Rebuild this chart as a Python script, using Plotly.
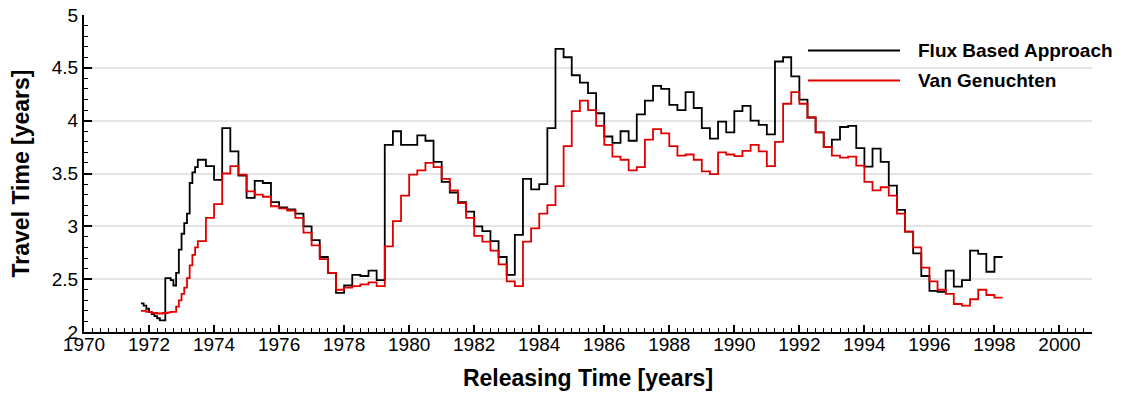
import plotly.graph_objects as go

# ---------------- data ----------------
# release times (decimal years): monthly at the start, quarterly afterwards
release_time = [
    1971.75, 1971.833, 1971.917,
    1972.0, 1972.083, 1972.167, 1972.25, 1972.333, 1972.417,
    1972.5, 1972.583, 1972.667, 1972.75, 1972.833, 1972.917,
    1973.0, 1973.083, 1973.167, 1973.25, 1973.333, 1973.417,
    1973.5, 1973.75,
    1974.0, 1974.25, 1974.5, 1974.75,
    1975.0, 1975.25, 1975.5, 1975.75,
    1976.0, 1976.25, 1976.5, 1976.75,
    1977.0, 1977.25, 1977.5, 1977.75,
    1978.0, 1978.25, 1978.5, 1978.75,
    1979.0, 1979.25, 1979.5, 1979.75,
    1980.0, 1980.25, 1980.5, 1980.75,
    1981.0, 1981.25, 1981.5, 1981.75,
    1982.0, 1982.25, 1982.5, 1982.75,
    1983.0, 1983.25, 1983.5, 1983.75,
    1984.0, 1984.25, 1984.5, 1984.75,
    1985.0, 1985.25, 1985.5, 1985.75,
    1986.0, 1986.25, 1986.5, 1986.75,
    1987.0, 1987.25, 1987.5, 1987.75,
    1988.0, 1988.25, 1988.5, 1988.75,
    1989.0, 1989.25, 1989.5, 1989.75,
    1990.0, 1990.25, 1990.5, 1990.75,
    1991.0, 1991.25, 1991.5, 1991.75,
    1992.0, 1992.25, 1992.5, 1992.75,
    1993.0, 1993.25, 1993.5, 1993.75,
    1994.0, 1994.25, 1994.5, 1994.75,
    1995.0, 1995.25, 1995.5, 1995.75,
    1996.0, 1996.25, 1996.5, 1996.75,
    1997.0, 1997.25, 1997.5, 1997.75,
    1998.0,
]
series_end = 1998.25

flux_based = [
    2.27, 2.25, 2.22,
    2.19, 2.17, 2.15, 2.13, 2.11, 2.11,
    2.51, 2.51, 2.49, 2.44, 2.56, 2.78,
    2.93, 3.03, 3.12, 3.41, 3.51, 3.56,
    3.63, 3.57,
    3.44, 3.93, 3.71, 3.48,
    3.27, 3.43, 3.41, 3.23,
    3.18, 3.16, 3.12, 3.00,
    2.87, 2.71, 2.56, 2.37,
    2.44, 2.54, 2.53, 2.58,
    2.49, 3.77, 3.90, 3.77,
    3.77, 3.86, 3.81, 3.61,
    3.42, 3.32, 3.23, 3.14,
    3.00, 2.955, 2.86, 2.71,
    2.54, 2.92, 3.45, 3.35,
    3.40, 3.93, 4.68, 4.60,
    4.43, 4.36, 4.26, 4.07,
    3.85, 3.79, 3.90, 3.81,
    4.06, 4.19, 4.33, 4.30,
    4.15, 4.10, 4.27, 4.12,
    3.93, 3.83, 3.99, 3.89,
    4.09, 4.14, 4.00, 3.96,
    3.87, 4.56, 4.60, 4.42,
    4.20, 4.03, 3.89, 3.75,
    3.82, 3.94, 3.95, 3.74,
    3.565, 3.735, 3.61, 3.385,
    3.155, 2.95, 2.745, 2.53,
    2.39, 2.38, 2.58, 2.43,
    2.49, 2.77, 2.74, 2.57,
    2.71,
]

van_genuchten = [
    2.20, 2.20, 2.19,
    2.19, 2.18, 2.18, 2.175, 2.175, 2.18,
    2.18, 2.185, 2.19, 2.19, 2.24, 2.30,
    2.36, 2.42, 2.51, 2.63, 2.73, 2.80,
    2.86, 3.08,
    3.21, 3.50, 3.57, 3.49,
    3.33, 3.30, 3.28, 3.19,
    3.17, 3.15, 3.08, 2.94,
    2.82, 2.69, 2.56, 2.40,
    2.42, 2.435, 2.45, 2.47,
    2.435, 2.81, 3.05, 3.29,
    3.49, 3.53, 3.60, 3.56,
    3.45, 3.34, 3.22, 3.08,
    2.91, 2.855, 2.77, 2.64,
    2.48, 2.435, 2.855, 2.98,
    3.12, 3.20, 3.38, 3.76,
    4.09, 4.19, 4.10, 3.95,
    3.77, 3.66, 3.63, 3.53,
    3.56, 3.82, 3.92, 3.88,
    3.76, 3.67, 3.68, 3.63,
    3.52, 3.495, 3.70, 3.68,
    3.665, 3.715, 3.77, 3.71,
    3.57, 3.80, 4.16, 4.27,
    4.16, 4.03, 3.89, 3.75,
    3.67, 3.65, 3.66, 3.575,
    3.42, 3.34, 3.37, 3.29,
    3.12, 2.95, 2.80, 2.61,
    2.48, 2.40, 2.36, 2.265,
    2.25, 2.31, 2.40, 2.35,
    2.325,
]

series_names = ["Flux Based Approach", "Van Genuchten"]
series_colors = ["#000000", "#e00000"]

x_title = "Releasing Time [years]"
y_title = "Travel Time [years]"

# ---------------- figure ----------------
FONT = "Liberation Sans, Arial, sans-serif"
W, H = 1122, 393
ML, MR, MT, MB = 84, 30, 15, 61

fig = go.Figure()
t_full = release_time + [series_end]
for name, vals, col in zip(series_names, [flux_based, van_genuchten], series_colors):
    fig.add_trace(go.Scatter(
        x=t_full, y=vals + [vals[-1]], mode="lines", name=name,
        line=dict(color=col, width=1.8, shape="hv"),
        showlegend=False,
    ))

# custom legend (long line samples, bold labels)
pw = W - ML - MR
ph = H - MT - MB
leg_x0 = (808 - ML) / pw
leg_x1 = (900 - ML) / pw
leg_tx = (916 - ML) / pw
leg_y = [(H - MB - 50.5) / ph, (H - MB - 80.5) / ph]
for name, col, yy in zip(series_names, series_colors, leg_y):
    fig.add_shape(type="line", xref="paper", yref="paper",
                  x0=leg_x0, x1=leg_x1, y0=yy, y1=yy,
                  line=dict(color=col, width=1.8))
    fig.add_annotation(xref="paper", yref="paper", x=leg_tx, y=yy,
                       text=name, showarrow=False, xanchor="left", yanchor="middle",
                       font=dict(family=FONT, size=19, color="black", weight="bold"))

fig.update_layout(
    width=W, height=H,
    margin=dict(l=ML, r=MR, t=MT, b=MB, pad=0, autoexpand=False),
    plot_bgcolor="white", paper_bgcolor="white",
    font=dict(family=FONT, size=19, color="black"),
)
fig.update_xaxes(
    range=[1970, 2001], tick0=1970, dtick=2, automargin=False,
    showline=True, linecolor="black", linewidth=2,
    ticks="inside", ticklen=7, tickwidth=1.5, tickcolor="black",
    ticklabelstandoff=-6,
    minor=dict(dtick=0.25, ticks="inside", ticklen=4, tickwidth=1, tickcolor="black", showgrid=False),
    showgrid=False, zeroline=False,
    tickfont=dict(family=FONT, size=19, color="black"),
    title=dict(text=x_title, standoff=16,
               font=dict(family=FONT, size=23, color="black", weight="bold")),
)
fig.update_yaxes(
    range=[2, 5], tick0=2, dtick=0.5, automargin=False,
    showline=True, linecolor="black", linewidth=2,
    ticks="inside", ticklen=8, tickwidth=1.5, tickcolor="black",
    minor=dict(dtick=0.1, ticks="inside", ticklen=4, tickwidth=1, tickcolor="black", showgrid=False),
    showgrid=True, gridcolor="#e4e4e4", gridwidth=1.5,
    zeroline=False,
    tickfont=dict(family=FONT, size=19, color="black"),
    title=dict(text=y_title, standoff=16,
               font=dict(family=FONT, size=23, color="black", weight="bold")),
)

fig.write_html("out.html")
